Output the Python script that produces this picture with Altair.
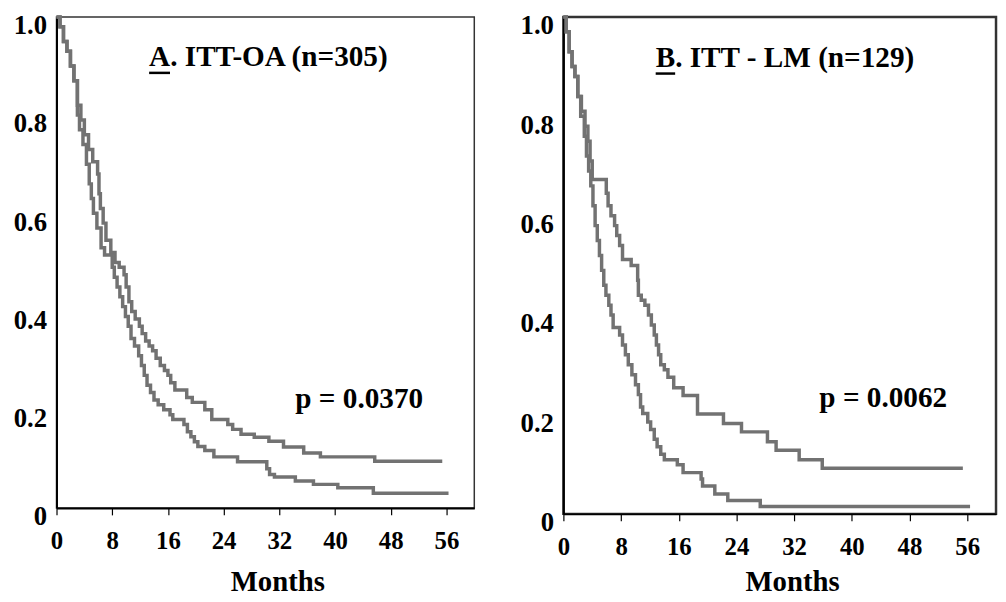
import altair as alt
import pandas as pd

FONT = "Liberation Serif"

# ---- Panel A: ITT-OA (n=305) ----
a_upper_t = [0, 0.5, 1.0, 1.5, 2.0, 2.5, 3.0, 3.5, 4.0, 4.6, 5.2, 5.9, 6.1, 6.3, 6.7, 7.1, 7.8, 8.4, 9.0, 9.7,
             10.0, 10.4, 10.8, 11.3, 11.9, 12.3, 12.8, 13.3, 13.8, 14.3, 14.9, 15.5, 16.0, 16.4, 17.0, 18.7,
             19.5, 21.3, 22.3, 24.6, 25.3, 26.5, 28.4, 30.5, 32.6, 35.5, 37.9, 45.7, 55.4]
a_upper_s = [1.0, 0.98, 0.95, 0.93, 0.90, 0.87, 0.82, 0.79, 0.76, 0.73, 0.705, 0.68, 0.64, 0.61, 0.58, 0.545,
             0.52, 0.50, 0.49, 0.475, 0.45, 0.42, 0.40, 0.385, 0.37, 0.355, 0.34, 0.33, 0.32, 0.305, 0.29, 0.28,
             0.27, 0.255, 0.24, 0.225, 0.215, 0.20, 0.18, 0.17, 0.16, 0.15, 0.144, 0.136, 0.124, 0.112, 0.104,
             0.095, 0.095]
a_lower_t = [0, 0.5, 1.0, 1.5, 2.0, 2.5, 3.0, 3.3, 3.8, 4.3, 4.7, 5.0, 5.3, 5.8, 6.4, 6.9, 8.0, 8.3, 8.7, 9.1,
             9.5, 9.9, 10.3, 10.7, 11.2, 11.8, 12.2, 12.6, 13.0, 13.5, 14.0, 14.6, 15.4, 16.3, 16.7, 18.3, 18.8,
             19.3, 19.8, 20.3, 21.3, 22.6, 26.0, 30.2, 30.6, 31.3, 34.3, 36.9, 40.4, 45.5, 56.3]
a_lower_s = [1.0, 0.98, 0.95, 0.93, 0.90, 0.87, 0.80, 0.77, 0.74, 0.70, 0.66, 0.63, 0.60, 0.57, 0.53, 0.515,
             0.49, 0.47, 0.45, 0.43, 0.41, 0.39, 0.37, 0.345, 0.33, 0.31, 0.29, 0.27, 0.25, 0.235, 0.22, 0.21,
             0.20, 0.19, 0.18, 0.17, 0.155, 0.145, 0.135, 0.125, 0.117, 0.104, 0.094, 0.080, 0.068, 0.063,
             0.055, 0.048, 0.041, 0.030, 0.030]

# ---- Panel B: ITT - LM (n=129) ----
b_upper_t = [0, 0.4, 0.8, 1.2, 1.6, 2.0, 2.5, 3.0, 3.4, 3.7, 4.0, 5.95, 6.2, 6.6, 7.1, 7.4, 7.8, 8.2, 9.4, 10.3,
             10.4, 10.8, 11.3, 11.8, 12.2, 12.6, 12.9, 13.2, 13.5, 14.0, 14.5, 15.3, 16.6, 18.6, 22.2, 24.7,
             28.3, 29.5, 32.7, 35.9, 55.4]
b_upper_s = [1.0, 0.97, 0.93, 0.90, 0.88, 0.84, 0.81, 0.78, 0.75, 0.71, 0.673, 0.645, 0.62, 0.60, 0.58, 0.56,
             0.54, 0.512, 0.50, 0.47, 0.44, 0.43, 0.42, 0.40, 0.38, 0.36, 0.34, 0.32, 0.30, 0.29, 0.275, 0.254,
             0.238, 0.201, 0.182, 0.165, 0.145, 0.128, 0.109, 0.092, 0.092]
b_lower_t = [0, 0.4, 0.8, 1.2, 1.6, 2.0, 2.4, 2.9, 3.2, 3.5, 3.8, 4.1, 4.4, 4.7, 5.0, 5.3, 5.6, 5.9, 6.3, 6.6,
             6.9, 7.8, 8.2, 8.6, 9.0, 9.5, 10.0, 10.4, 10.7, 11.0, 11.7, 12.1, 12.6, 13.0, 13.5, 14.0, 15.8,
             16.6, 19.1, 19.3, 21.0, 22.8, 27.3, 56.4]
b_lower_s = [1.0, 0.97, 0.93, 0.90, 0.88, 0.84, 0.80, 0.76, 0.72, 0.69, 0.66, 0.62, 0.58, 0.55, 0.52, 0.49,
             0.46, 0.44, 0.42, 0.40, 0.375, 0.36, 0.34, 0.32, 0.30, 0.28, 0.26, 0.24, 0.215, 0.202, 0.185, 0.17,
             0.15, 0.135, 0.12, 0.109, 0.099, 0.083, 0.070, 0.056, 0.040, 0.027, 0.015, 0.015]

# axis ticks / labels
month_ticks = list(range(0, 61))
y_ticks = [0, 0.2, 0.4, 0.6, 0.8, 1.0]

# annotation texts
a_title = "A. ITT-OA (n=305)"
b_title = "B. ITT - LM (n=129)"
a_p = "p = 0.0370"
b_p = "p = 0.0062"


def panel(up_t, up_s, lo_t, lo_s, title, title_pos, ul_pos, ptext, p_pos, width, height, months_x,
          months_y, frame_w):
    curves = pd.concat([
        pd.DataFrame({"t": up_t, "s": up_s, "series": "upper"}),
        pd.DataFrame({"t": lo_t, "s": lo_s, "series": "lower"}),
    ])
    notes = pd.DataFrame({"t": [title_pos[0], p_pos[0]], "s": [title_pos[1], p_pos[1]],
                          "label": [title, ptext]})
    underline = pd.DataFrame({"t": [ul_pos[0]], "t2": [ul_pos[1]], "s": [ul_pos[2]]})

    x_enc = alt.X("t:Q", scale=alt.Scale(domain=[0, 60], nice=False, zero=False),
                  axis=alt.Axis(values=month_ticks,
                                labelExpr="datum.value % 8 === 0 && datum.value <= 56 ? datum.label : ''",
                                tickSize={"condition": {"test": "datum.value % 4 === 0", "value": 7},
                                          "value": 3},
                                tickColor="black", tickWidth=1.2,
                                domainColor="black", domainWidth=2,
                                labelFont=FONT, labelFontWeight="bold", labelFontSize=25,
                                labelColor="black", labelPadding=14, labelFlush=False,
                                labelOverlap=False, grid=False,
                                title="Months", titleFont=FONT, titleFontWeight="bold",
                                titleFontSize=29, titleColor="black", titleX=months_x,
                                titleY=months_y, titleAlign="center", titleBaseline="alphabetic"))
    y_enc = alt.Y("s:Q", scale=alt.Scale(domain=[0, 1], nice=False),
                  axis=alt.Axis(values=y_ticks,
                                labelExpr="datum.value === 0 ? '0' : format(datum.value, '.1f')",
                                ticks=False, tickSize=0, labelPadding=10, labelBaseline="top",
                                labelOffset=-4,
                                domainColor="black", domainWidth=2,
                                labelFont=FONT, labelFontWeight="bold", labelFontSize=27,
                                labelColor="black", labelFlush=False, grid=False, title=None))

    lines = alt.Chart(curves).mark_line(interpolate="step-after", strokeWidth=3.5, color="#727272").encode(
        x=x_enc, y=y_enc, detail="series:N")
    texts = alt.Chart(notes).mark_text(font=FONT, fontWeight="bold", fontSize=29.5, align="left",
                                       baseline="alphabetic", color="black").encode(
        x="t:Q", y="s:Q", text="label:N")
    rule = alt.Chart(underline).mark_rule(color="black", strokeWidth=2.5).encode(
        x="t:Q", x2="t2:Q", y="s:Q")
    return alt.layer(lines, texts, rule).properties(
        width=width, height=height,
        view=alt.ViewBackground(stroke="#333333", strokeWidth=frame_w))


chart_a = panel(a_upper_t, a_upper_s, a_lower_t, a_lower_s, a_title, (13.3, 0.90),
                (13.3, 16.3, 0.886), a_p, (34.3, 0.204), 422, 496, 223, 83, 1.5)
chart_b = panel(b_upper_t, b_upper_s, b_lower_t, b_lower_s, b_title, (12.8, 0.90),
                (12.8, 15.5, 0.886), b_p, (35.5, 0.215), 437, 502, 231, 77, 2.5)

chart = alt.hconcat(chart_a, chart_b, spacing=44).properties(
    padding={"left": 4, "top": -3, "right": 0, "bottom": 0},
    background="white",
)

chart.save("out.html", embed_options={"renderer": "svg", "actions": False})
